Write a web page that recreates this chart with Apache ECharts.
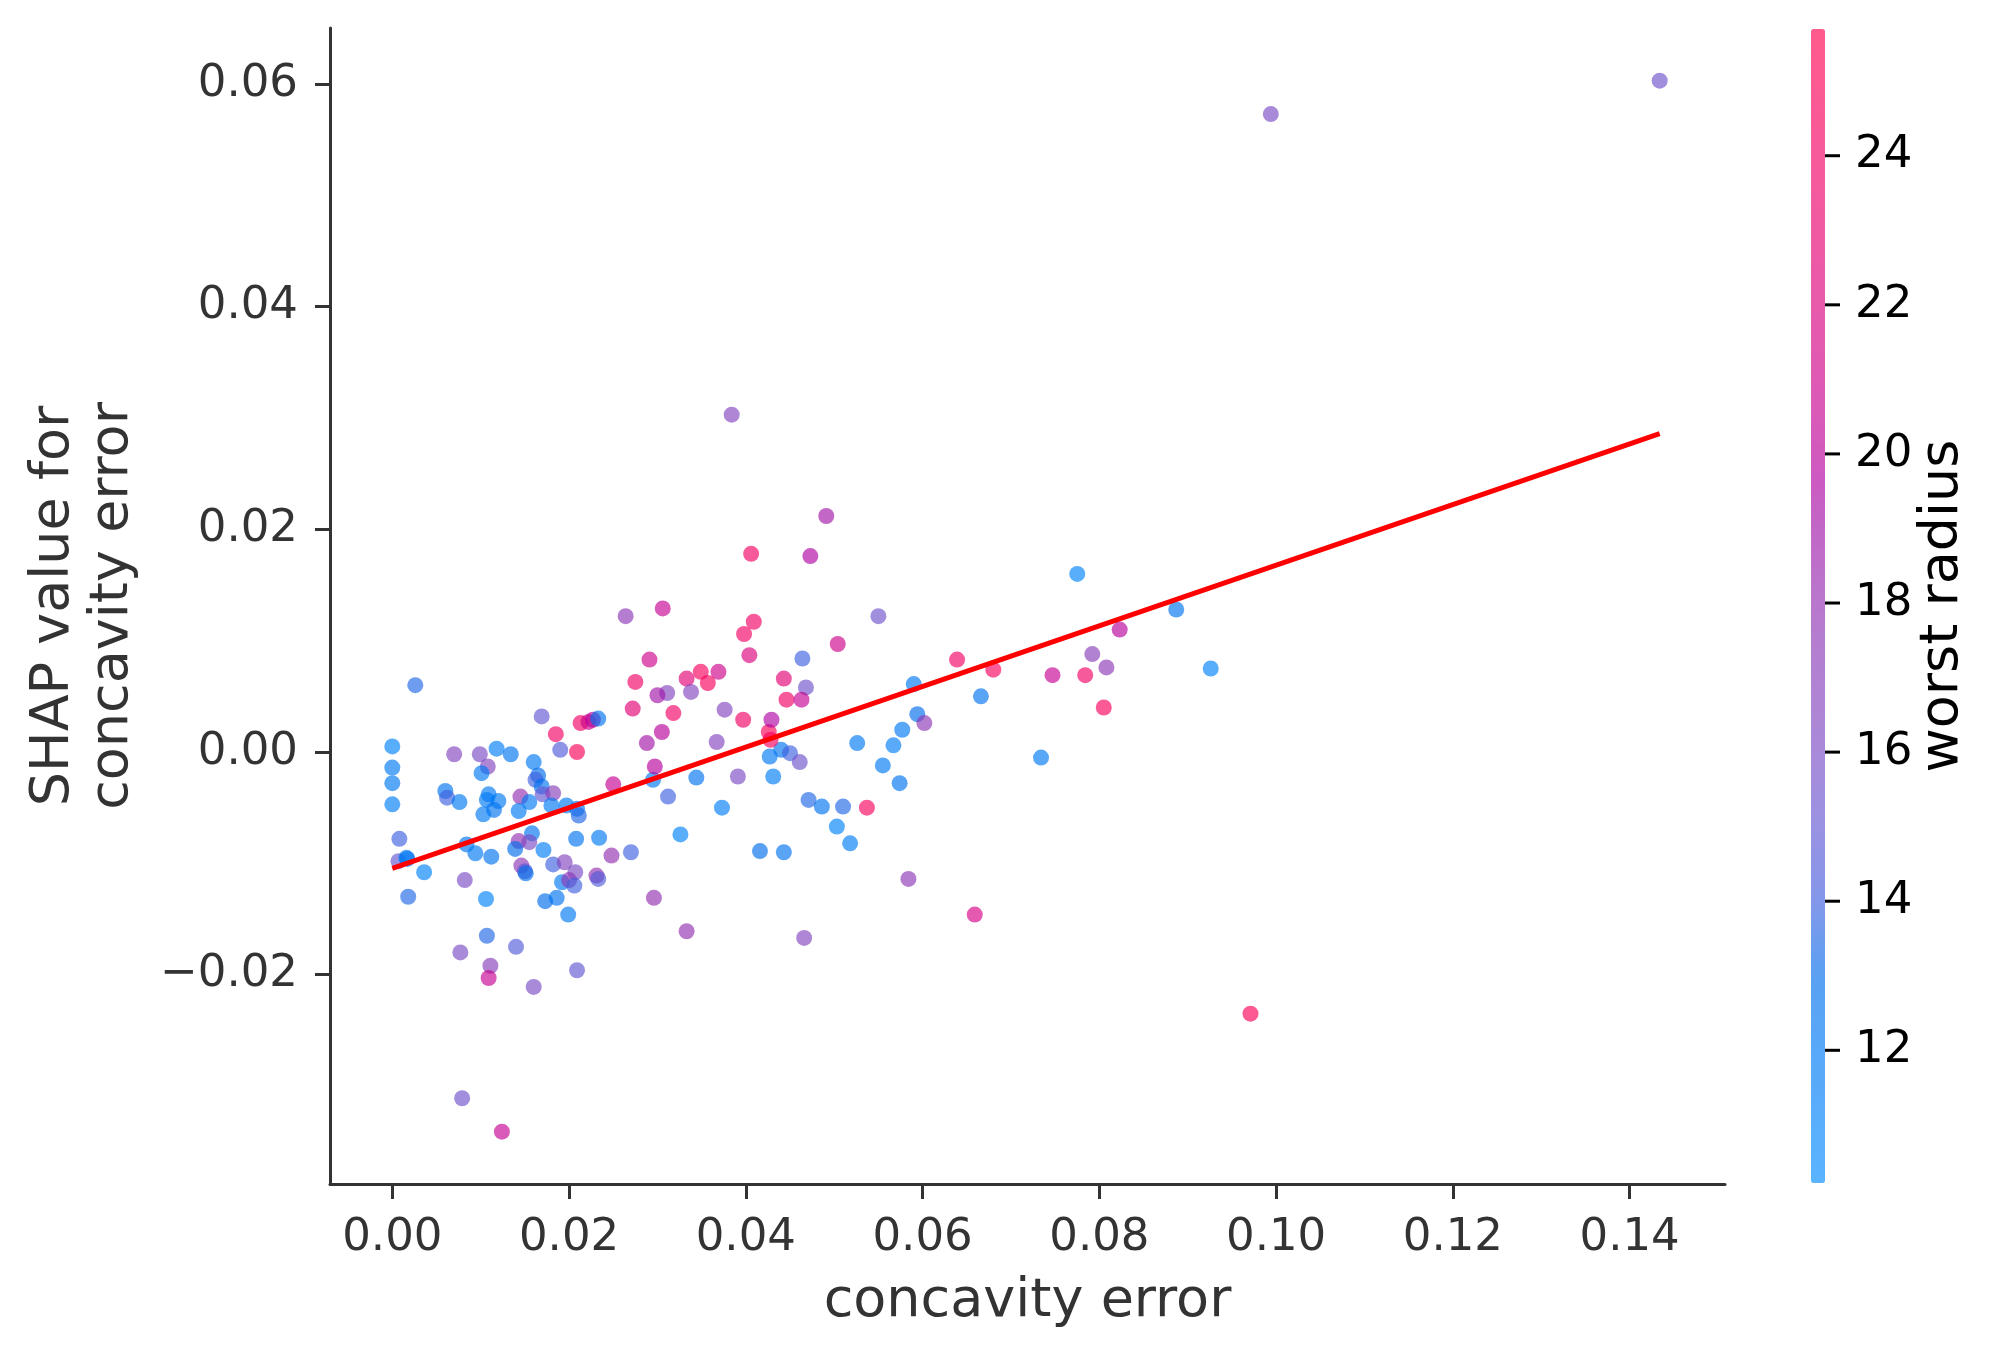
<!DOCTYPE html>
<html>
<head>
<meta charset="utf-8">
<script src="https://cdn.jsdelivr.net/npm/echarts@6/dist/echarts.min.js"></script>
<style>
html,body{margin:0;padding:0;background:#fff;}
#chart{width:2011px;height:1357px;background:#fff;}
</style>
</head>
<body>
<div id="chart"></div>
<script>
// ---- data ----
const xVals = [
0.0026,0.0000,0.0000,0.0000,0.0000,0.0008,0.0007,0.0016,0.0017,0.0036,
0.0018,0.0070,0.0060,0.0062,0.0076,0.0082,0.0106,0.0107,0.0099,0.0108,
0.0101,0.0118,0.0134,0.0109,0.0107,0.0120,0.0115,0.0103,0.0145,0.0155,
0.0143,0.0160,0.0165,0.0162,0.0169,0.0170,0.0182,0.0180,0.0197,0.0209,
0.0211,0.0158,0.0143,0.0139,0.0155,0.0171,0.0084,0.0094,0.0112,0.0146,
0.0150,0.0151,0.0182,0.0195,0.0208,0.0234,0.0207,0.0192,0.0200,0.0206,
0.0173,0.0186,0.0199,0.0231,0.0233,0.0248,0.0270,0.0296,0.0333,0.0250,
0.0295,0.0297,0.0312,0.0344,0.0373,0.0326,0.0391,0.0416,0.0443,0.0431,
0.0427,0.0440,0.0450,0.0426,0.0428,0.0429,0.0397,0.0367,0.0376,0.0446,
0.0443,0.0404,0.0398,0.0369,0.0357,0.0349,0.0333,0.0338,0.0311,0.0300,
0.0318,0.0305,0.0288,0.0291,0.0275,0.0272,0.0185,0.0209,0.0190,0.0169,
0.0213,0.0222,0.0227,0.0233,
0.0077,0.0140,0.0111,0.0109,0.0160,0.0209,0.0079,0.0124,
0.0384,0.0406,0.0264,0.0306,0.0409,
0.0491,0.0473,0.0775,0.0550,0.0504,0.0464,0.0468,0.0463,0.0639,0.0680,
0.0590,0.0666,0.0747,0.0784,0.0792,0.0808,0.0823,0.0887,0.0805,
0.0461,0.0526,0.0594,0.0602,0.0577,0.0567,0.0555,0.0574,0.0734,0.0471,
0.0486,0.0510,0.0537,0.0503,0.0518,0.0584,0.0659,0.0466,
0.0926,0.0971,0.0994,0.1434
];
const yVals = [
0.0060,0.0005,-0.0014,-0.0028,-0.0047,-0.0078,-0.0098,-0.0095,-0.0096,-0.0108,
-0.0130,-0.0002,-0.0035,-0.0041,-0.0045,-0.0115,-0.0132,-0.0165,-0.0002,-0.0013,
-0.0019,0.0003,-0.0002,-0.0038,-0.0043,-0.0044,-0.0052,-0.0056,-0.0040,-0.0045,
-0.0053,-0.0009,-0.0021,-0.0025,-0.0031,-0.0038,-0.0037,-0.0048,-0.0048,-0.0051,
-0.0057,-0.0073,-0.0080,-0.0087,-0.0081,-0.0088,-0.0083,-0.0091,-0.0094,-0.0102,
-0.0107,-0.0109,-0.0101,-0.0099,-0.0078,-0.0077,-0.0108,-0.0117,-0.0115,-0.0120,
-0.0134,-0.0131,-0.0146,-0.0111,-0.0114,-0.0093,-0.0090,-0.0131,-0.0161,-0.0029,
-0.0025,-0.0013,-0.0040,-0.0023,-0.0050,-0.0074,-0.0022,-0.0089,-0.0090,-0.0022,
-0.0004,0.0002,-0.0001,0.0018,0.0011,0.0029,0.0029,0.0009,0.0038,0.0047,
0.0066,0.0087,0.0106,0.0072,0.0062,0.0072,0.0066,0.0054,0.0053,0.0051,
0.0035,0.0018,0.0008,0.0083,0.0063,0.0039,0.0016,0.0000,0.0002,0.0032,
0.0026,0.0027,0.0029,0.0030,
-0.0180,-0.0175,-0.0192,-0.0203,-0.0211,-0.0196,-0.0311,-0.0341,
0.0303,0.0178,0.0122,0.0129,0.0117,
0.0212,0.0176,0.0160,0.0122,0.0097,0.0084,0.0058,0.0047,0.0083,0.0074,
0.0061,0.0050,0.0069,0.0069,0.0088,0.0076,0.0110,0.0128,0.0040,
-0.0009,0.0008,0.0034,0.0026,0.0020,0.0006,-0.0012,-0.0028,-0.0005,-0.0043,
-0.0049,-0.0049,-0.0050,-0.0067,-0.0082,-0.0114,-0.0146,-0.0167,
0.0075,-0.0235,0.0573,0.0603
];
const radiusVals = [
13.5,11,12,12,11.5,14,15,12.5,12,11,
13.5,16.5,12.5,14,12,16,11,13.5,16,16.5,
12,11.5,12.5,12,12,12,12.5,12,18,12,
12,12,13,14,12.5,15,17,12,12,12.5,
13.5,12.5,18,13,16,11.5,12.5,12,12.5,17.5,
15,13,14,16.5,12.5,12,16,12,17.5,14,
13,12.5,12,18,14.5,18,14,18,18,20.5,
12,20,14,12.5,11.5,11,16,13,12.5,11.5,
12,12.5,14,25,24.5,19.5,24,16.5,16.5,24,
22.5,22,24,21,24.5,24.5,22.5,16.5,16.5,19,
24,20,19,21,24,22.5,24,25,14.5,15,
24,21,20,12.5,
16,14.5,17,20.5,16,15,15.5,20.5,
16.5,24,17.5,20.5,24,
19,19.5,11,15.5,21,14,15.5,20.5,24,24.5,
12,12.5,20.5,24,17,17.5,20,12.5,24.5,
15.5,12,13,17.5,12,11.5,12,12.5,12,13.5,
12.5,13.5,24.5,11,11.5,17.5,21.5,16.5,
11,25,16,15.5
];
// fitted trend line end points
const trendX = [0.0, 0.1434];
const trendY = [-0.01045, 0.0286];
// tick labels
const xTicks = [0.00,0.02,0.04,0.06,0.08,0.10,0.12,0.14];
const yTicks = [-0.02,0.00,0.02,0.04,0.06];
const cbTicks = [12,14,16,18,20,22,24];
const cbMin = 10.22, cbMax = 25.70;

// ---- colour map (colour bar as seen, alpha already blended on white) ----
const cmapStops = [10.22,12,13,13.5,14,15,16,17,18,19,19.6,20.5,22,24,25.70];
const cmapPale = ['#5ab4ff','#58a8f8','#5aa0f2','#6e9cee','#8398ea','#9a92e2','#a98ad9','#b282d2','#b878cb','#c267c6','#cb5ac3','#d95ab8','#e85aab','#f75a9a','#ff5a8c'];
const ALPHA = 0.65;
function hex2rgb(h){return [parseInt(h.substr(1,2),16),parseInt(h.substr(3,2),16),parseInt(h.substr(5,2),16)];}
function rgb2hex(c){return '#'+c.map(v=>{v=Math.max(0,Math.min(255,Math.round(v)));return (v<16?'0':'')+v.toString(16);}).join('');}
function paleAt(v){
  for(let i=0;i<cmapStops.length-1;i++){
    if(v<=cmapStops[i+1]){
      const t=(v-cmapStops[i])/(cmapStops[i+1]-cmapStops[i]);
      const a=hex2rgb(cmapPale[i]), b=hex2rgb(cmapPale[i+1]);
      return a.map((x,k)=>x+(b[k]-x)*t);
    }
  }
  return hex2rgb(cmapPale[cmapPale.length-1]);
}
const N=96, paleList=[], satList=[];
for(let i=0;i<N;i++){
  const v=cbMin+(cbMax-cbMin)*i/(N-1);
  const p=paleAt(v);
  paleList.push(rgb2hex(p));
  satList.push(rgb2hex(p.map(c=>(c-255*(1-ALPHA))/ALPHA)));
}

const points = xVals.map((x,i)=>[x,yVals[i],radiusVals[i]]);
const trend = trendX.map((x,i)=>[x,trendY[i]]);
const fmt = v => { const s=Math.abs(v).toFixed(2); return (v<-1e-9?'\u2212':'')+s; };
const FONT='DejaVu Sans';

const chart = echarts.init(document.getElementById('chart'), null, {renderer:'canvas'});
chart.setOption({
  animation:false,
  grid:[
    {left:330, top:28, width:1395, height:1156},
    {left:1811, top:29, width:14, height:1154}
  ],
  xAxis:[
    {type:'value', gridIndex:0, min:-0.00705, max:0.15079,
     name:'concavity error', nameLocation:'middle', nameGap:91,
     nameTextStyle:{fontSize:54, color:'#333333', fontFamily:FONT},
     axisLine:{show:true, onZero:false, lineStyle:{color:'#333333', width:3}},
     axisTick:{show:true, length:15, customValues:xTicks, lineStyle:{color:'#333333', width:3}},
     axisLabel:{customValues:xTicks, fontSize:45, color:'#333333', margin:32, fontFamily:FONT, formatter:fmt},
     splitLine:{show:false}},
    {type:'value', gridIndex:1, show:false, min:0, max:1}
  ],
  yAxis:[
    {type:'value', gridIndex:0, min:-0.0388, max:0.06503,
     name:'SHAP value for\nconcavity error', nameLocation:'middle', nameGap:188, nameRotate:90,
     nameTextStyle:{fontSize:54, color:'#333333', lineHeight:59, fontFamily:FONT},
     axisLine:{show:true, onZero:false, lineStyle:{color:'#333333', width:3}},
     axisTick:{show:true, length:15, customValues:yTicks, lineStyle:{color:'#333333', width:3}},
     axisLabel:{customValues:yTicks, fontSize:45, color:'#333333', margin:32, fontFamily:FONT, formatter:fmt},
     splitLine:{show:false}},
    {type:'value', gridIndex:1, position:'right', min:cbMin, max:cbMax,
     name:'worst radius', nameLocation:'middle', nameGap:89, nameRotate:90,
     nameTextStyle:{fontSize:54, color:'#000000', fontFamily:FONT},
     axisLine:{show:false},
     axisTick:{show:false},
     axisLabel:{customValues:cbTicks, fontSize:45, color:'#000000', margin:0, fontFamily:FONT,
       formatter: v => '{t|}{s|}' + v,
       rich:{
         t:{width:15, height:3, backgroundColor:'#000000', verticalAlign:'middle'},
         s:{width:15, height:3, verticalAlign:'middle'}
       }},
     splitLine:{show:false}}
  ],
  visualMap:[
    {type:'continuous', show:true, seriesIndex:2, dimension:1, min:cbMin, max:cbMax,
     orient:'vertical', left:1811, top:29, itemWidth:14, itemHeight:1154, padding:0,
     calculable:false, inRange:{color:paleList}},
    {type:'continuous', show:false, seriesIndex:0, dimension:2, min:cbMin, max:cbMax,
     inRange:{color:satList}}
  ],
  series:[
    {type:'scatter', xAxisIndex:0, yAxisIndex:0, data:points, symbolSize:16,
     itemStyle:{opacity:ALPHA}, silent:true, z:2},
    {type:'line', xAxisIndex:0, yAxisIndex:0, data:trend, showSymbol:false, symbol:'none',
     lineStyle:{color:'#ff0000', width:5}, silent:true, z:3},
    {type:'scatter', xAxisIndex:1, yAxisIndex:1, data:[], silent:true}
  ]
});
</script>
</body>
</html>
